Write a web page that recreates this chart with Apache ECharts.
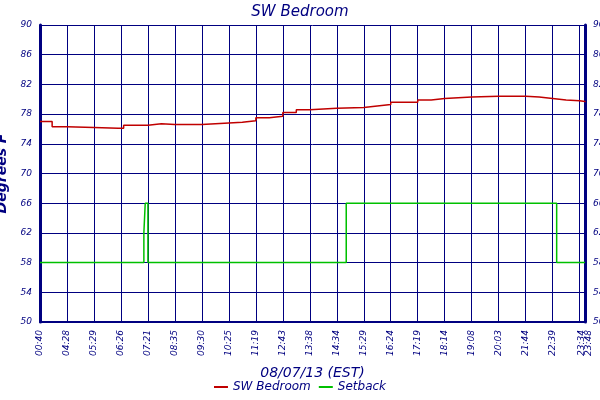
<!DOCTYPE html><html><head><meta charset="utf-8">
<script src="https://cdn.jsdelivr.net/npm/echarts@6/dist/echarts.min.js"></script>
<style>body{margin:0}#c{width:600px;height:400px}</style></head><body><div id="c"></div><script>
var tickLabels=['00:40','04:28','05:29','06:26','07:21','08:35','09:30','10:25','11:19','12:43','13:38','14:34','15:29','16:24','17:19','18:14','19:08','20:03','21:44','22:39','23:34'];
var endLabel='23:48';
var bedroomX=[0,0.35,0.45,1,2,2.9,3.1,4,4.5,5,6,6.5,7,7.5,8,8.5,9,9.5,10,11,12,12.5,13,14,14.5,15,16,17,17.5,18,18.5,19,19.5,20,20.2];
var bedroomY=[77,77,76.3,76.2,76.1,76.1,76.5,76.7,76.6,76.6,76.7,76.8,76.9,77.1,77.5,77.7,78.2,78.6,78.8,78.9,79.1,79.3,79.6,79.9,80.1,80.3,80.4,80.4,80.4,80.3,80.1,79.9,79.8,79.7,79.6];
var setX=[0,3.85,3.85,3.9,4.0,4.0,11.35,11.35,19.15,19.15,20.2];
var setY=[58,58,62,66,66,58,58,66,66,58,58];
var navy='#000080';
var ff='DejaVu Sans';
function pairs(x,y){return x.map(function(v,i){return [v,y[i]];});}
var ch=echarts.init(document.getElementById('c'));
ch.setOption({
 backgroundColor:'#fff',animation:false,
 title:{text:'SW Bedroom',left:'center',top:0,textStyle:{color:navy,fontSize:15,fontStyle:'italic',fontWeight:'normal',fontFamily:ff}},
 legend:{bottom:2,itemWidth:14,itemHeight:2,icon:'rect',textStyle:{color:navy,fontStyle:'italic',fontSize:12,fontFamily:ff},data:['SW Bedroom','Setback']},
 grid:{left:40,right:15,top:25,bottom:78,outerBoundsMode:'none',containLabel:false},
 xAxis:{type:'value',min:0,max:20.2,interval:1,name:'08/07/13 (EST)',nameLocation:'middle',nameGap:44,
  nameTextStyle:{color:navy,fontStyle:'italic',fontSize:14,fontFamily:ff},
  axisLine:{lineStyle:{color:navy,width:2}},axisTick:{show:false},
  splitLine:{show:true,lineStyle:{color:navy,width:1}},
  axisLabel:{rotate:90,color:navy,fontStyle:'italic',fontSize:9,fontFamily:ff,showMaxLabel:true,hideOverlap:false,lineHeight:7,
   formatter:function(v){if(v>20.1)return tickLabels[20]+'\n'+endLabel;if(v>19.9)return '';var i=Math.round(v);return tickLabels[i]||'';}}},
 yAxis:[{type:'value',min:50,max:90,interval:4,position:'left',name:'Degrees F',nameLocation:'middle',nameGap:26,
  nameTextStyle:{color:navy,fontStyle:'italic',fontWeight:'bold',fontSize:14,fontFamily:ff},
  axisLine:{show:true,lineStyle:{color:navy,width:3}},axisTick:{show:false},
  splitLine:{lineStyle:{color:navy,width:1}},
  axisLabel:{color:navy,fontStyle:'italic',fontSize:9,fontFamily:ff}},
  {type:'value',min:50,max:90,interval:4,position:'right',
  axisLine:{show:true,lineStyle:{color:navy,width:3}},axisTick:{show:false},splitLine:{show:false},
  axisLabel:{color:navy,fontStyle:'italic',fontSize:9,fontFamily:ff}}],
 series:[
  {name:'SW Bedroom',type:'line',step:'end',showSymbol:false,data:pairs(bedroomX,bedroomY),lineStyle:{color:'#c00000',width:1.5},itemStyle:{color:'#c00000'}},
  {name:'Setback',type:'line',showSymbol:false,data:pairs(setX,setY),lineStyle:{color:'#00c000',width:1.5},itemStyle:{color:'#00c000'}}
 ]
});
</script></body></html>
